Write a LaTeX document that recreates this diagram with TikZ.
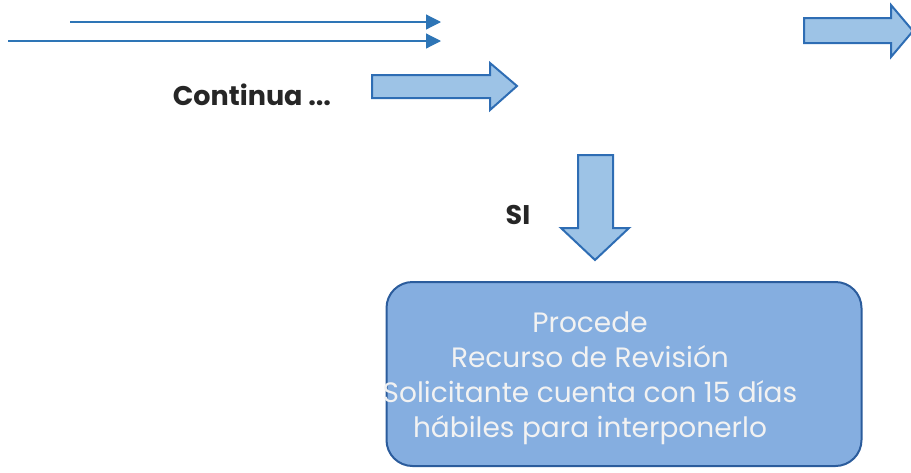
\documentclass[tikz,border=0pt]{standalone}
\usepackage{fontspec}
\setmainfont{Poppins}
\usetikzlibrary{arrows.meta}
\definecolor{lineblue}{HTML}{2E75B6}
\definecolor{arrowfill}{HTML}{9DC3E6}
\definecolor{arrowedge}{HTML}{2E6DB4}
\definecolor{boxfill}{HTML}{85AEE0}
\definecolor{boxedge}{HTML}{2B5C9C}
\definecolor{boxtext}{HTML}{F2F2F2}
\tikzset{
  thinarrow/.style={draw=lineblue, line width=1.2pt, -{Triangle[length=15pt,width=15pt]}},
  blockarrow/.style={draw=arrowedge, fill=arrowfill, line width=2pt, line join=miter},
  labeltext/.style={font=\fontsize{27pt}{30pt}\selectfont\bfseries, text=black!85},
  boxstyle/.style={draw=boxedge, fill=boxfill, line width=2pt, rounded corners=26pt,
    minimum width=475pt, minimum height=184pt},
  boxtextstyle/.style={align=center, text=boxtext, font=\fontsize{28pt}{35pt}\selectfont}
}
\begin{document}
\begin{tikzpicture}[x=1pt,y=-1pt]
\useasboundingbox (0,0) rectangle (911,472);
% thin arrows
\coordinate (l1a) at (70,22);
\coordinate (l1b) at (441,22);
\coordinate (l2a) at (8,41);
\coordinate (l2b) at (441,41);
\draw[thinarrow] (l1a) -- (l1b);
\draw[thinarrow] (l2a) -- (l2b);
% label
\node[labeltext] (cont) at (252,95) {Continua ...};
% block arrow right (middle)
\draw[blockarrow] (372,75) -- (490,75) -- (490,63) -- (517,86) -- (490,110) -- (490,98) -- (372,98) -- cycle;
% block arrow top-right
\draw[blockarrow] (804,18) -- (891,18) -- (891,5) -- (913,31) -- (891,57) -- (891,43) -- (804,43) -- cycle;
% down arrow
\draw[blockarrow] (578,155) -- (613,155) -- (613,228) -- (629,228) -- (595,260) -- (561,228) -- (578,228) -- cycle;
\node[labeltext] (si) at (518,215) {SI};
% box
\node[boxstyle] (box) at (624,374) {};
\node[boxtextstyle] (boxtxt) at (590,378) {Procede\\Recurso de Revisión\\Solicitante cuenta con 15 días\\hábiles para interponerlo};
\end{tikzpicture}
\end{document}
